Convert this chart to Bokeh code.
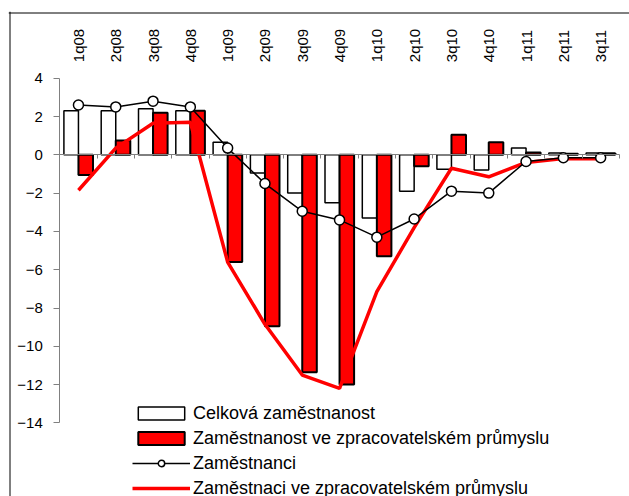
import math
from bokeh.plotting import figure
from bokeh.models import (Range1d, LinearAxis, FixedTicker, Legend, LegendItem,
                          Span, ColumnDataSource)
from bokeh.embed import file_html
from bokeh.resources import INLINE

# ---- data ----
quarters = ["1q08", "2q08", "3q08", "4q08", "1q09", "2q09", "3q09", "4q09",
            "1q10", "2q10", "3q10", "4q10", "1q11", "2q11", "3q11"]
celkova = [2.3, 2.3, 2.4, 2.3, 0.65, -0.95, -2.0, -2.5, -3.3, -1.9, -0.75, -0.8, 0.35, 0.1, 0.1]
zam_zprac_bar = [-1.05, 0.75, 2.2, 2.3, -5.6, -8.95, -11.35, -12.0, -5.3, -0.6, 1.05, 0.65, 0.12, 0.05, 0.08]
zamestnanci = [2.6, 2.5, 2.8, 2.5, 0.35, -1.5, -2.95, -3.4, -4.3, -3.35, -1.9, -2.0, -0.35, -0.15, -0.15]
zamestnanci_zprac = [-1.85, 0.35, 1.65, 1.7, -5.6, -8.85, -11.5, -12.2, -7.15, -3.8, -0.7, -1.15, -0.4, -0.2, -0.2]
y_ticks = [-14, -12, -10, -8, -6, -4, -2, 0, 2, 4]
legend_labels = ["Celková zaměstnanost",
                 "Zaměstnanost ve zpracovatelském průmyslu",
                 "Zaměstnanci",
                 "Zaměstnaci ve zpracovatelském průmyslu"]

FONT = "Liberation Sans"
n = len(quarters)
pos = [i + 0.5 for i in range(n)]
bw = 0.39

# ---- layout (pixels) ----
W, H = 629, 496
FRAME_L, FRAME_T = 8, 11          # frame covers the whole chart box
AX_X0, CAT_W = 59.3, 37.3         # plot-area left edge and category width
Y_TOP_PX, PX_PER_UNIT = 77.7, 19.15
BORDER_X, BORDER_Y = 9.5, 12.5    # outer chart border

def xd(px):
    return (px - AX_X0) / CAT_W

def yd(py):
    return y_ticks[-1] - (py - Y_TOP_PX) / PX_PER_UNIT

src = ColumnDataSource(dict(
    x_white=[c - bw / 2 for c in pos],
    x_red=[c + bw / 2 for c in pos],
    x=pos,
    celkova=celkova,
    zprac=zam_zprac_bar,
    zam=zamestnanci,
    zamz=zamestnanci_zprac,
))

p = figure(width=W, height=H,
           x_range=Range1d(xd(FRAME_L), xd(W)), y_range=Range1d(yd(H), yd(FRAME_T)),
           output_backend="svg", toolbar_location=None,
           x_axis_location=None, y_axis_location=None,
           min_border_left=FRAME_L, min_border_right=0, min_border_top=FRAME_T, min_border_bottom=0)
p.outline_line_color = None
p.xgrid.visible = False
p.ygrid.visible = False
p.background_fill_color = "white"
p.border_fill_color = "white"

# outer chart border: left and top edges (the rest lies beyond the window)
p.add_layout(Span(location=xd(BORDER_X), dimension="height", line_color="black", line_width=1))
p.add_layout(Span(location=yd(BORDER_Y), dimension="width", line_color="black", line_width=1))

# y axis
yax = LinearAxis(ticker=FixedTicker(ticks=y_ticks), fixed_location=0,
                 bounds=(y_ticks[0], y_ticks[-1]),
                 major_tick_out=6, major_tick_in=0, minor_tick_line_color=None,
                 axis_line_color="#808080", major_tick_line_color="#808080",
                 major_label_text_font=FONT, major_label_text_font_size="15px",
                 major_label_text_color="black", major_label_standoff=11)
p.add_layout(yax, "left")

# category labels on top
top_ax = LinearAxis(ticker=FixedTicker(ticks=pos),
                    fixed_location=y_ticks[-1],
                    major_label_overrides={pos[i]: quarters[i] for i in range(n)},
                    major_label_orientation=math.pi / 2,
                    axis_line_color=None, major_tick_line_color=None, minor_tick_line_color=None,
                    major_tick_out=0, major_tick_in=0,
                    major_label_standoff=16,
                    major_label_text_font=FONT, major_label_text_font_size="15px",
                    major_label_text_color="black")
p.add_layout(top_ax, "above")

# zero axis with ticks at category boundaries
zero_ax = LinearAxis(ticker=FixedTicker(ticks=list(range(n + 1))),
                     fixed_location=0, bounds=(0, n),
                     major_label_overrides={i: "" for i in range(n + 1)},
                     axis_line_color="#808080", major_tick_line_color="#808080",
                     minor_tick_line_color=None,
                     major_tick_out=0, major_tick_in=4,
                     major_label_standoff=0,
                     major_label_text_font_size="8px")
p.add_layout(zero_ax, "above")

# bars
r_white = p.vbar(x="x_white", top="celkova", bottom=0, width=bw, source=src,
                 fill_color="white", line_color="black", line_width=1.5)
r_red = p.vbar(x="x_red", top="zprac", bottom=0, width=bw, source=src,
               fill_color="#FF0000", line_color="black", line_width=2)

# lines
r_redline = p.line(x="x", y="zamz", source=src, line_color="#FF0000", line_width=3.5)
r_black = p.line(x="x", y="zam", source=src, line_color="black", line_width=1.5)
r_mark = p.scatter(x="x", y="zam", source=src, marker="circle", size=10,
                   fill_color="white", line_color="black", line_width=1.5)

legend = Legend(items=[
    LegendItem(label=legend_labels[0], renderers=[r_white]),
    LegendItem(label=legend_labels[1], renderers=[r_red]),
    LegendItem(label=legend_labels[2], renderers=[r_black, r_mark]),
    LegendItem(label=legend_labels[3], renderers=[r_redline]),
], location=(132 - FRAME_L, -4), padding=0, margin=0, spacing=1,
    glyph_width=58, glyph_height=16, label_height=24, label_standoff=3,
    label_text_font=FONT, label_text_font_size="18px", label_text_color="black",
    border_line_color=None, background_fill_alpha=0)
p.add_layout(legend, "center")

open("out.html", "w").write(file_html(p, INLINE))
